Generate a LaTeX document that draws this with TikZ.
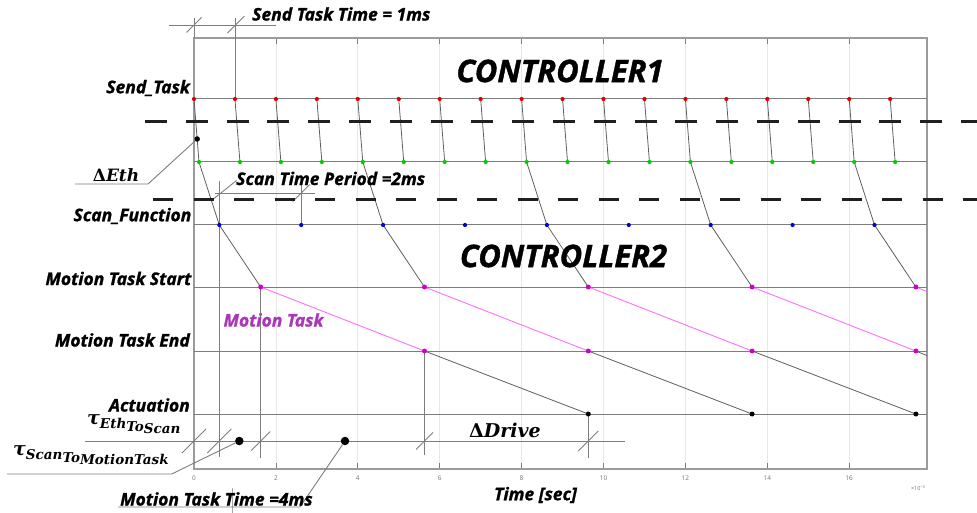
\documentclass[tikz,border=0pt]{standalone}
\usepackage{graphicx}
\usepackage{fontspec}
\setmainfont{Open Sans}[BoldFeatures={FakeBold=1.2}, BoldItalicFeatures={FakeBold=1.2}]
\newfontfamily\symfont{DejaVu Serif}
\definecolor{rowgray}{RGB}{125,125,125}
\definecolor{gridgray}{RGB}{232,232,232}
\definecolor{boxgray}{RGB}{155,155,155}
\definecolor{linkgray}{RGB}{95,95,95}
\definecolor{dotred}{RGB}{225,0,0}
\definecolor{dotgreen}{RGB}{0,205,0}
\definecolor{dotblue}{RGB}{0,0,215}
\definecolor{dotmag}{RGB}{205,0,205}
\definecolor{taskpink}{RGB}{255,110,255}
\definecolor{tasklabel}{RGB}{170,55,185}
\tikzset{
  dot/.style={circle, inner sep=0pt, minimum size=4.2pt, fill=#1},
  bigdot/.style={circle, inner sep=0pt, minimum size=#1, fill=black},
  lbl/.style={font=\fontsize{17.5}{20}\selectfont\bfseries\itshape, inner sep=0pt},
  rowlbl/.style={lbl, anchor=east},
  biglbl/.style={font=\fontsize{31}{36}\selectfont\bfseries\itshape, inner sep=0pt},
  symlbl/.style={font=\symfont\fontsize{17}{20}\selectfont\bfseries, inner sep=0pt},
  ticklbl/.style={font=\fontsize{6.5}{8}\selectfont, text=black!55, inner sep=0pt},
  link/.style={draw=linkgray, line width=0.8pt},
  task/.style={draw=taskpink, line width=0.9pt},
  rowline/.style={draw=rowgray, line width=1pt},
  gridline/.style={draw=gridgray, line width=0.8pt},
  tickline/.style={draw=rowgray, line width=0.8pt},
  boxline/.style={draw=boxgray, line width=1.3pt},
  sepline/.style={draw=black!88, line width=3pt, dash pattern=on 22pt off 18.8pt},
  dimline/.style={draw=rowgray, line width=0.9pt},
}
% short oblique dimension tick through a point
\newcommand{\dimtick}[2]{\draw[dimline] (#1) ++(-#2,#2) -- ++(2*#2,-2*#2);}
% lowered subscript chain in the symbol font
\newcommand{\subsz}{\fontsize{13.5}{14}\selectfont}
\newcommand{\lowr}[2]{\raisebox{-#1pt}{#2}}
\begin{document}
\begin{tikzpicture}[x=1pt,y=-1pt]
\useasboundingbox (0,0) rectangle (977,513);

% grid, ticks and tick labels of the time axis (1 ms = 40.95 px)
\foreach \t in {2,4,...,16} {
  \draw[gridline] ({194+40.95*\t},38) -- ({194+40.95*\t},469);
  \draw[tickline] ({194+40.95*\t},38) -- ++(0,6);
  \draw[tickline] ({194+40.95*\t},469) -- ++(0,-6);
}
\foreach \t in {0,2,...,16}
  \node[ticklbl] (tl\t) at ({194+40.95*\t},478) {\t};
\node[ticklbl, font=\fontsize{5.5}{7}\selectfont] (expo) at (918,488) {×10\raisebox{2pt}{\fontsize{4}{5}\selectfont −3}};

% axes box
\draw[boxline] (194,38) rectangle (927,469);

% timing rows
\foreach \y/\n in {99/send,162/recv,225/scan,287/mstart,351/mend,414/act} {
  \coordinate (\n W) at (194,\y);
  \coordinate (\n E) at (927,\y);
  \draw[rowline] (\n W) -- (\n E);
}

% event positions
\foreach \k in {0,...,17} {
  \coordinate (r\k) at ({194+40.95*\k},99);
  \coordinate (g\k) at ({199+40.95*\k},162);
}
\foreach \j in {0,...,8} \coordinate (b\j) at ({219.3+81.9*\j},225);
\foreach \i in {0,...,4} \coordinate (s\i) at ({260.7+163.8*\i},287);
\foreach \i in {0,...,3} \coordinate (e\i) at ({424.5+163.8*\i},351);
\foreach \i in {0,...,2} \coordinate (a\i) at ({588.3+163.8*\i},414);
\coordinate (sEnd) at (927,291.6);
\coordinate (eEnd) at (927,355.6);

% dimension lines (drawn below the traces)
\coordinate (topL) at (169,25);
\coordinate (topR) at (276,25);
\draw[dimline] (topL) -- (topR);
\coordinate (v0T) at (194,18);
\coordinate (v0B) at (194,38);
\draw[dimline] (v0T) -- (v0B);
\coordinate (v1T) at ({194+40.95},18);
\draw[dimline] (v1T) -- (r1);
\coordinate (tk0) at (194,25);
\coordinate (tk1) at ({194+40.95},25);
\dimtick{tk0}{7.5}
\draw[dimline] (tk1) ++(-7.5,8) -- ++(17,-17);

\coordinate (scL) at (215,193);
\coordinate (scR) at (315,193);
\draw[dimline] (scL) -- (scR);
\coordinate (sv0T) at (219.3,181);
\coordinate (sv0B) at (219.3,457);
\draw[dimline] (sv0T) -- (sv0B);
\coordinate (sv1T) at (301.2,185);
\draw[dimline] (sv1T) -- (b1);
\coordinate (sk1) at (301.2,193);
\coordinate (skA) at (211.5,200.5);
\coordinate (skB) at (236.5,180.5);
\draw[dimline] (skA) -- (skB);
\dimtick{sk1}{8.5}

\coordinate (btL) at (85,441);
\coordinate (btR) at (625,441);
\draw[dimline] (btL) -- (btR);
\coordinate (mv0B) at (260.7,458);
\draw[dimline] (s0) -- (mv0B);
\coordinate (dv0B) at (424.5,455);
\draw[dimline] (e0) -- (dv0B);
\coordinate (dv1B) at (588.3,458);
\draw[dimline] (a0) -- (dv1B);
\coordinate (bk0) at (194,441);
\coordinate (bk1) at (219.3,441);
\coordinate (bk2) at (260.7,441);
\coordinate (bk3) at (424.5,441);
\coordinate (bk4) at (588.3,441);
\dimtick{bk0}{12}
\dimtick{bk1}{12}
\dimtick{bk2}{9.5}
\dimtick{bk3}{8.5}
\dimtick{bk4}{10}
\coordinate (stubT) at (232.7,488);
\coordinate (stubB) at (232.7,513);
\draw[dimline, draw=rowgray!70] (stubT) -- (stubB);

% traces between the events
\foreach \k in {0,...,17} \draw[link] (r\k) -- (g\k);
\foreach \k/\j in {0/0,4/2,8/4,12/6,16/8} \draw[link] (g\k) -- (b\j);
\foreach \j/\i in {0/0,2/1,4/2,6/3,8/4} \draw[link] (b\j) -- (s\i);
\foreach \i in {0,...,3} \draw[task] (s\i) -- (e\i);
\draw[task] (s4) -- (sEnd);
\foreach \i in {0,...,2} \draw[link] (e\i) -- (a\i);
\draw[link] (e3) -- (eEnd);

% controller boundaries
\coordinate (sepAW) at (145,122);
\coordinate (sepAE) at (977,122);
\draw[sepline] (sepAW) -- (sepAE);
\coordinate (sepBW) at (153,200);
\coordinate (sepBE) at (977,200);
\draw[sepline, dash pattern=on 20pt off 20.5pt] (sepBW) -- (sepBE);

% event markers
\foreach \k in {0,...,17} {
  \node[dot=dotred] (rd\k) at (r\k) {};
  \node[dot=dotgreen] (gd\k) at (g\k) {};
}
\foreach \j in {0,...,8} \node[dot=dotblue] (bd\j) at (b\j) {};
\foreach \i in {0,...,4} \node[dot=dotmag, minimum size=5pt] (sd\i) at (s\i) {};
\foreach \i in {0,...,3} \node[dot=dotmag, minimum size=5pt] (ed\i) at (e\i) {};
\foreach \i in {0,...,2} \node[dot=black, minimum size=5pt] (ad\i) at (a\i) {};

% annotated points with leaders
\node[bigdot=5.5pt] (ethdot) at (197.2,139) {};
\coordinate (ethK) at (148,184);
\coordinate (ethL) at (75,184);
\draw[dimline] (ethdot) -- (ethK) -- (ethL);
\node[bigdot=8.5pt] (stmdot) at (239.3,441) {};
\coordinate (stmK) at (171.7,474);
\coordinate (stmL) at (7,474);
\draw[dimline] (stmdot) -- (stmK) -- (stmL);
\node[bigdot=8.5pt] (mttdot) at (345,441) {};
\coordinate (mttK) at (300,507);
\coordinate (mttL) at (118,507);
\draw[dimline] (mttdot) -- (mttK) -- (mttL);

% labels
\node[rowlbl] (lsend) at (190,88) {Send\_Task};
\node[rowlbl] (lscan) at (191.5,216) {Scan\_Function};
\node[rowlbl] (lms) at (191.5,278.5) {Motion Task Start};
\node[rowlbl] (lme) at (190,340) {Motion Task End};
\node[rowlbl] (lact) at (190,405) {Actuation};
\node[lbl, anchor=west] (lsendtime) at (252,14) {Send Task Time = 1ms};
\node[lbl, anchor=west] (lscantime) at (236,178.5) {Scan Time Period =2ms};
\node[lbl, anchor=west] (lmtt) at (120,499) {Motion Task Time =4ms};
\node[lbl, text=tasklabel] (lmt) at (273.5,320) {Motion Task};
\node[lbl] (ltime) at (535.5,495) {Time [sec]};
\node[biglbl] (c1) at (560,71) {CONTROLLER1};
\node[biglbl] (c2) at (563.5,256) {CONTROLLER2};

\node[symlbl] (leth) at (116,175) {Δ\itshape Eth};
\node[symlbl, font=\symfont\fontsize{19}{22}\selectfont\bfseries] (ldrive) at (505,430.5) {Δ\itshape Drive};
\node[symlbl, anchor=west, font=\symfont\fontsize{19}{22}\selectfont\bfseries] (ltes) at (87,424) {\itshape τ\subsz\lowr{4}{Eth\lowr{3}{To\lowr{1.5}{Scan}}}};
\node[symlbl, anchor=west, font=\symfont\fontsize{19}{22}\selectfont\bfseries] (ltsm) at (13,455) {\itshape τ\subsz\lowr{4}{Scan\lowr{3}{To\lowr{1.5}{MotionTask}}}};
\end{tikzpicture}
\end{document}
